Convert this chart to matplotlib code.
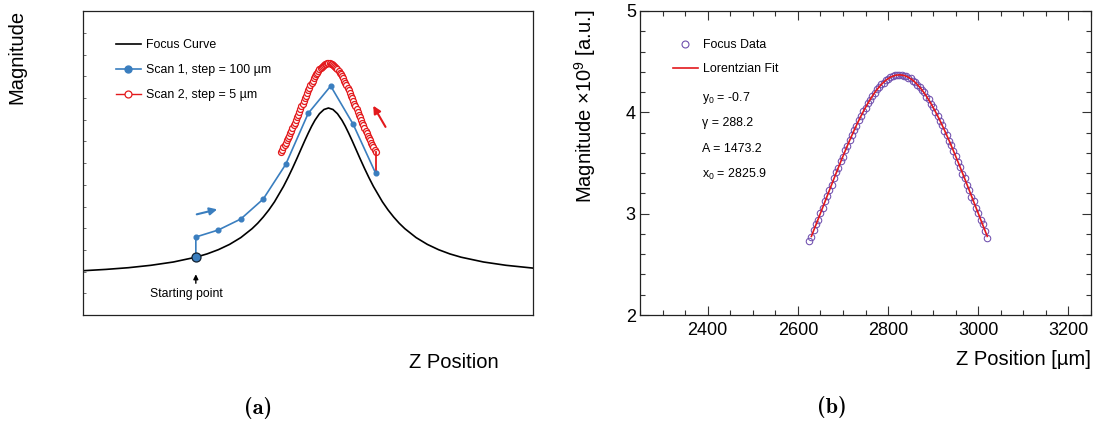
import numpy as np
import matplotlib
matplotlib.use('Agg')
import matplotlib.pyplot as plt
from matplotlib.lines import Line2D
from matplotlib.ticker import MultipleLocator, NullFormatter

plt.rcParams['font.family'] = ['Liberation Sans', 'DejaVu Sans']
plt.rcParams['mathtext.fontset'] = 'custom'
plt.rcParams['mathtext.rm'] = 'Liberation Sans'
plt.rcParams['mathtext.it'] = 'Liberation Sans:italic'

# ---- panel (a): schematic, offsets in um from the starting point, magnitude arbitrary
focus_x = [-500, -400, -300, -200, -100, 0, 50, 100, 150, 200, 250, 275, 300, 325, 350,
           390, 410, 430, 450, 470, 485, 500, 515, 530, 550, 570, 590, 610, 630, 650,
           665, 680, 695, 710, 730, 750, 770, 790, 830, 855, 880, 905, 930, 980, 1030,
           1080, 1130, 1180, 1280, 1380, 1500]
focus_y = [44.3, 45.6, 47.3, 49.7, 53.0, 57.8, 61.1, 65.3, 70.6, 77.4, 86.3, 91.7, 98.0, 105.1, 113.2,
           128.6, 137.4, 146.8, 156.7, 166.9, 174.5, 181.8, 188.7, 194.8, 201.3, 205.5, 207.0, 205.5, 201.3, 194.8,
           188.7, 181.8, 174.5, 166.9, 156.7, 146.8, 137.4, 128.6, 113.2, 105.1, 98.0, 91.7, 86.3, 77.4, 70.6,
           65.3, 61.1, 57.8, 53.0, 49.7, 46.9]

scan1_x = [0, 0, 100, 200, 300, 400, 500, 600, 700, 800]
scan1_y = [57.8, 78.0, 85.0, 96.0, 116.0, 150.7, 201.7, 229.0, 190.7, 141.7]

scan2_x = np.arange(380, 801, 5)
scan2_y = [163.0, 165.2, 167.5, 169.7, 172.1, 174.5, 176.9, 179.3, 181.9, 184.4,
           187.0, 189.6, 192.3, 194.9, 197.6, 200.4, 203.1, 205.9, 208.6, 211.3,
           214.1, 216.8, 219.4, 222.1, 224.7, 227.2, 229.6, 232.0, 234.3, 236.5,
           238.6, 240.6, 242.4, 244.1, 245.7, 247.1, 248.3, 249.3, 250.2, 250.9,
           251.4, 251.7, 251.7, 251.7, 251.4, 250.9, 250.2, 249.3, 248.3, 247.1,
           245.7, 244.1, 242.4, 240.6, 238.6, 236.5, 234.3, 232.0, 229.6, 227.2,
           224.7, 222.1, 219.4, 216.8, 214.1, 211.3, 208.6, 205.9, 203.1, 200.4,
           197.6, 194.9, 192.3, 189.6, 187.0, 184.4, 181.9, 179.3, 176.9, 174.5,
           172.1, 169.7, 167.5, 165.2, 163.0]

# ---- panel (b): measured focus scan + Lorentzian fit
z_data = np.arange(2625, 3021, 5)
mag_data = [2.730, 2.768, 2.838, 2.895, 2.940, 3.010, 3.052, 3.122, 3.170, 3.238,
            3.282, 3.350, 3.408, 3.452, 3.518, 3.560, 3.626, 3.669, 3.730, 3.772,
            3.830, 3.868, 3.925, 3.960, 4.012, 4.045, 4.092, 4.120, 4.163, 4.188,
            4.226, 4.246, 4.278, 4.293, 4.320, 4.330, 4.350, 4.354, 4.367, 4.366,
            4.372, 4.370, 4.362, 4.358, 4.343, 4.335, 4.312, 4.299, 4.270, 4.253,
            4.218, 4.196, 4.155, 4.128, 4.083, 4.052, 4.003, 3.968, 3.914, 3.878,
            3.820, 3.780, 3.720, 3.678, 3.615, 3.571, 3.507, 3.462, 3.396, 3.350,
            3.283, 3.236, 3.169, 3.122, 3.055, 3.008, 2.940, 2.894, 2.828, 2.760]

z_fit = np.arange(2630, 3021, 5)
mag_fit = [2.776, 2.833, 2.889, 2.946, 3.003, 3.060, 3.117, 3.174, 3.231, 3.288,
           3.345, 3.401, 3.457, 3.512, 3.566, 3.620, 3.673, 3.725, 3.775, 3.825,
           3.873, 3.919, 3.964, 4.007, 4.048, 4.087, 4.124, 4.159, 4.192, 4.222,
           4.249, 4.274, 4.296, 4.316, 4.332, 4.346, 4.356, 4.364, 4.368, 4.370,
           4.368, 4.364, 4.356, 4.346, 4.332, 4.316, 4.296, 4.274, 4.249, 4.222,
           4.192, 4.159, 4.124, 4.087, 4.048, 4.007, 3.964, 3.919, 3.873, 3.825,
           3.775, 3.725, 3.673, 3.620, 3.566, 3.512, 3.457, 3.401, 3.345, 3.288,
           3.231, 3.174, 3.117, 3.060, 3.003, 2.946, 2.889, 2.833, 2.776]

fit_params = ['y$_{0}$ = -0.7', 'γ = 288.2', 'A = 1473.2', 'x$_{0}$ = 2825.9']

blue = '#3a7ebf'
red = '#e3191c'
purple = '#6f4fae'

fig = plt.figure(figsize=(10.97, 4.23), dpi=100)
W, H = 1097, 423
ax1 = fig.add_axes([83 / W, 1 - 315 / H, 450 / W, 304 / H])
ax2 = fig.add_axes([640 / W, 1 - 315 / H, 451 / W, 304 / H])

for ax in (ax1, ax2):
    for s in ax.spines.values():
        s.set_linewidth(0.9)
        s.set_color('#222222')

# ---------- (a)
ax1.plot(focus_x, focus_y, color='black', lw=1.2, zorder=2)
ax1.plot(scan2_x, scan2_y, color=red, lw=0.8, marker='o', ms=4.3, mfc='white',
         mec=red, mew=0.9, zorder=3)
ax1.plot([scan1_x[-1], scan2_x[-1]], [scan1_y[-1], scan2_y[-1]], color=red, lw=1.3, zorder=3)
ax1.plot(scan1_x, scan1_y, color=blue, lw=1.2, marker='o', ms=3.4, zorder=4)
ax1.plot(scan1_x[0], scan1_y[0], marker='o', ms=6.5, mfc=blue, mec='#102030', mew=0.9, zorder=5)

ax1.annotate('', xy=(107, 106.3), xytext=(-8, 100),
             arrowprops=dict(arrowstyle='-|>', color=blue, lw=1.5, mutation_scale=11))
ax1.annotate('', xy=(783, 211.7), xytext=(850, 185.7),
             arrowprops=dict(arrowstyle='-|>', color=red, lw=1.5, mutation_scale=11))
ax1.annotate('', xy=(0, 43.5), xytext=(0, 29),
             arrowprops=dict(arrowstyle='-|>', color='black', lw=1.0, mutation_scale=7))
ax1.text(-41, 21, 'Starting point', ha='center', va='center', fontsize=8.8)

ax1.set_xlim(-502, 1500)
ax1.set_ylim(0, 304)
ax1.set_xticks([])
ax1.yaxis.set_major_locator(MultipleLocator(21.7))
ax1.yaxis.set_major_formatter(NullFormatter())
ax1.tick_params(axis='y', direction='in', length=2.5, width=0.6, color='#555555')

h1 = [Line2D([], [], color='black', lw=1.2),
      Line2D([], [], color=blue, lw=1.2, marker='o', ms=5),
      Line2D([], [], color=red, lw=1.0, marker='o', ms=5, mfc='white', mec=red, mew=0.9)]
ax1.legend(h1, ['Focus Curve', 'Scan 1, step = 100 µm', 'Scan 2, step = 5 µm'],
           loc='upper left', bbox_to_anchor=(0.073, 0.908), frameon=False, fontsize=8.9,
           handlelength=2.0, handletextpad=0.45, labelspacing=1.05,
           borderpad=0, borderaxespad=0)

# ---------- (b)
ax2.plot(z_data, mag_data, linestyle='none', marker='o', ms=4.7, mfc='none',
         mec=purple, mew=0.75, zorder=3)
ax2.plot(z_fit, mag_fit, color=red, lw=1.2, zorder=4)

ax2.set_xlim(2250, 3250)
ax2.set_ylim(2, 5)
ax2.xaxis.set_major_locator(MultipleLocator(200))
ax2.xaxis.set_minor_locator(MultipleLocator(50))
ax2.yaxis.set_major_locator(MultipleLocator(1))
ax2.yaxis.set_minor_locator(MultipleLocator(0.2))
ax2.tick_params(which='both', direction='in', top=True, right=True, width=0.8, color='#333333')
ax2.tick_params(which='major', length=6.5, labelsize=13)
ax2.tick_params(which='minor', length=3.5)
ax2.tick_params(axis='y', pad=3)
ax2.tick_params(axis='x', pad=5)

h2 = [Line2D([], [], linestyle='none', marker='o', ms=5, mfc='none', mec=purple, mew=0.8),
      Line2D([], [], color=red, lw=1.2)]
ax2.legend(h2, ['Focus Data', 'Lorentzian Fit'], loc='upper left',
           bbox_to_anchor=(0.073, 0.908), frameon=False, fontsize=8.9,
           handlelength=2.0, handletextpad=0.45, labelspacing=1.0,
           borderpad=0, borderaxespad=0)
for i, s in enumerate(fit_params):
    ax2.text(0.1375, 0.714 - i * 0.0835, s, transform=ax2.transAxes, fontsize=8.9,
             ha='left', va='center')

# ---------- labels
fig.text(17 / W, 1 - 10 / H, 'Magnitude', rotation=90, ha='center', va='top', fontsize=14.5)
fig.text(499 / W, 1 - 362 / H, 'Z Position', ha='right', va='center', fontsize=14.5)
fig.text(585 / W, 1 - 10 / H, 'Magnitude ×10$^{9}$ [a.u.]', rotation=90, ha='center',
         va='top', fontsize=14.5)
fig.text(1091 / W, 1 - 359 / H, 'Z Position [µm]', ha='right', va='center', fontsize=14.5)
fig.text(258.5 / W, 1 - 408 / H, '(a)', ha='center', va='center', fontsize=16, family='cmb10')
fig.text(832 / W, 1 - 407 / H, '(b)', ha='center', va='center', fontsize=16, family='cmb10')

fig.savefig('out.png', dpi=100)
